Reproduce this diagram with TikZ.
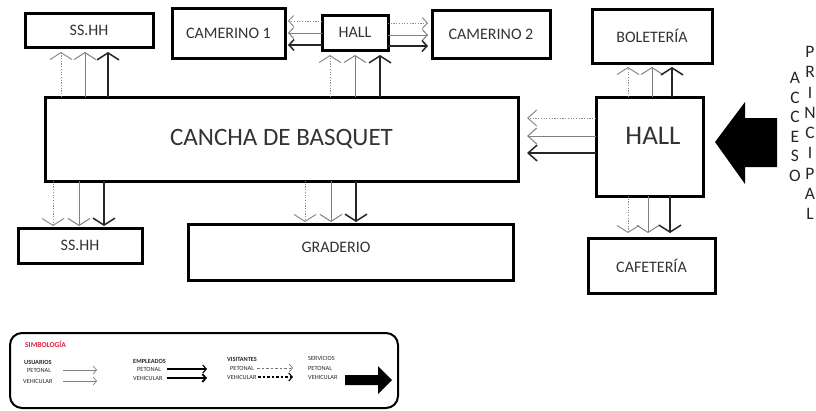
\documentclass[tikz,border=0pt]{standalone}
\usepackage{fontspec}
\setmainfont{Carlito}
\usetikzlibrary{arrows.meta}
\begin{document}
\begin{tikzpicture}[x=1pt,y=-1pt,
  box/.style={draw, line width=3pt, inner sep=0pt, outer sep=0pt, anchor=north west,
    font=\fontsize{16}{18}\selectfont, text=black!80},
  lbl/.style={inner sep=0pt, text=black!80},
  vt/.style={-{Straight Barb[length=7pt,width=22pt]}},
  ht/.style={-{Straight Barb[length=9pt,width=16pt]}},
  ct/.style={-{Straight Barb[length=5pt,width=11pt]}},
  lt/.style={-{Straight Barb[length=3.5pt,width=8pt]}},
  dotarr/.style={draw=black!45, line width=1pt, dash pattern=on 1.2pt off 1.5pt},
  gryarr/.style={draw=black!50, line width=1pt},
  blkarr/.style={draw=black!85, line width=1.5pt},
  vtxt/.style={inner sep=0pt, align=center, text=black!85},
  legt/.style={inner sep=0pt, anchor=west, font=\fontsize{6.3}{7}\selectfont, text=black!85},
  legh/.style={legt, font=\fontsize{6.3}{7}\selectfont\bfseries},
]
\useasboundingbox (0,0) rectangle (816,410);

% boxes
\node[box, minimum width=128, minimum height=34] (ssa) at (25,13) {SS.HH};
\node[box, minimum width=113, minimum height=50] (cam1) at (172,8) {CAMERINO 1};
\node[box, minimum width=66, minimum height=35] (halls) at (322,15) {HALL};
\node[box, minimum width=118, minimum height=48] (cam2) at (432,10) {CAMERINO 2};
\node[box, minimum width=120, minimum height=54] (bol) at (592,9) {BOLETERÍA};
\node[box, minimum width=473, minimum height=84, font=\fontsize{25}{28}\selectfont] (cancha) at (45,97) {CANCHA DE BASQUET};
\node[box, minimum width=107, minimum height=99] (hallb) at (596,97) {};
\node[lbl, font=\fontsize{27}{30}\selectfont] (hallbt) at (653,136) {HALL};
\node[box, minimum width=124, minimum height=35] (ssb) at (18,228) {SS.HH};
\node[box, minimum width=325, minimum height=56] (grad) at (188,224) {};
\node[lbl, font=\fontsize{16}{18}\selectfont] (gradt) at (336,247) {GRADERIO};
\node[box, minimum width=127, minimum height=55] (caf) at (588,238) {CAFETERÍA};

% cancha -> ssa
\draw[dotarr,vt,shorten >=5pt] (61,0 |- cancha.north) -- (61,0 |- ssa.south);
\draw[gryarr,vt,shorten >=5pt] (85,0 |- cancha.north) -- (85,0 |- ssa.south);
\draw[blkarr,vt,shorten >=5pt] (108,0 |- cancha.north) -- (108,0 |- ssa.south);
% cancha -> hall small
\draw[dotarr,vt,shorten >=5pt] (330,0 |- cancha.north) -- (330,0 |- halls.south);
\draw[gryarr,vt,shorten >=5pt] (355,0 |- cancha.north) -- (355,0 |- halls.south);
\draw[blkarr,vt,shorten >=5pt] (380,0 |- cancha.north) -- (380,0 |- halls.south);
% hall big -> boleteria
\draw[dotarr,vt,shorten >=4pt] (628,0 |- hallb.north) -- (628,0 |- bol.south);
\draw[gryarr,vt,shorten >=4pt] (652,0 |- hallb.north) -- (652,0 |- bol.south);
\draw[blkarr,vt,shorten >=4pt] (672,0 |- hallb.north) -- (672,0 |- bol.south);
% cancha -> ssb
\draw[dotarr,vt,shorten >=2pt] (53,0 |- cancha.south) -- (53,0 |- ssb.north);
\draw[gryarr,vt,shorten >=2pt] (79,0 |- cancha.south) -- (79,0 |- ssb.north);
\draw[blkarr,vt,shorten >=2pt] (104,0 |- cancha.south) -- (104,0 |- ssb.north);
% cancha -> graderio
\draw[dotarr,vt,shorten >=2pt] (305,0 |- cancha.south) -- (305,0 |- grad.north);
\draw[gryarr,vt,shorten >=2pt] (331,0 |- cancha.south) -- (331,0 |- grad.north);
\draw[blkarr,vt,shorten >=2pt] (356,0 |- cancha.south) -- (356,0 |- grad.north);
% hall big -> cafeteria
\draw[dotarr,vt,shorten >=5pt] (628,0 |- hallb.south) -- (628,0 |- caf.north);
\draw[gryarr,vt,shorten >=5pt] (648,0 |- hallb.south) -- (648,0 |- caf.north);
\draw[blkarr,vt,shorten >=5pt] (670,0 |- hallb.south) -- (670,0 |- caf.north);
% hall big -> cancha
\draw[dotarr,ht,shorten >=9pt] (hallb.west |- 0,118) -- (cancha.east |- 0,118);
\draw[gryarr,ht,shorten >=9pt] (hallb.west |- 0,136) -- (cancha.east |- 0,136);
\draw[blkarr,ht,shorten >=9pt] (hallb.west |- 0,153) -- (cancha.east |- 0,153);
% hall small -> camerino 1
\draw[dotarr,ct,shorten >=3pt] (halls.west |- 0,21) -- (cam1.east |- 0,21);
\draw[gryarr,ct,shorten >=3pt] (halls.west |- 0,33) -- (cam1.east |- 0,33);
\draw[blkarr,ct,shorten >=3pt] (halls.west |- 0,45) -- (cam1.east |- 0,45);
% hall small -> camerino 2
\draw[dotarr,ct,shorten >=4pt] (halls.east |- 0,23) -- (cam2.west |- 0,23);
\draw[gryarr,ct,shorten >=4pt] (halls.east |- 0,35) -- (cam2.west |- 0,35);
\draw[blkarr,ct,shorten >=4pt] (halls.east |- 0,46) -- (cam2.west |- 0,46);

% acceso principal
\fill[black] (777,118) -- (745,118) -- (745,102) -- (715,142) -- (745,184) -- (745,167) -- (777,167) -- cycle;
\node[vtxt, font=\fontsize{17.5}{19.6}\selectfont] (acc) at (795,127) {A\\C\\C\\E\\S\\O};
\node[vtxt, font=\fontsize{17.5}{20.3}\selectfont] (pri) at (810,133) {P\\R\\I\\N\\C\\I\\P\\A\\L};

% legend
\draw[line width=2pt, rounded corners=12pt] (10,333) rectangle (398,408);
\node[legt, font=\fontsize{7.5}{8}\selectfont\bfseries, text={rgb,255:red,225;green,30;blue,60}] (simb) at (25,344) {SIMBOLOGÍA};
\node[legh] (us) at (24,362) {USUARIOS};
\node[legt] (usp) at (27,370) {PETONAL};
\node[legt] (usv) at (23,381) {VEHICULAR};
\coordinate (u1a) at (63,370); \coordinate (u1b) at (97,370);
\coordinate (u2a) at (63,381); \coordinate (u2b) at (97,381);
\draw[gryarr,lt,line width=0.7pt] (u1a) -- (u1b);
\draw[gryarr,lt,line width=0.7pt] (u2a) -- (u2b);
\node[legh] (em) at (133,361) {EMPLEADOS};
\node[legt] (emp) at (137,369) {PETONAL};
\node[legt] (emv) at (133,378) {VEHICULAR};
\coordinate (e1a) at (167,369); \coordinate (e1b) at (207,369);
\coordinate (e2a) at (167,378); \coordinate (e2b) at (207,378);
\draw[black,lt,line width=1.1pt] (e1a) -- (e1b);
\draw[black,lt,line width=1.8pt] (e2a) -- (e2b);
\node[legh] (vi) at (227,359) {VISITANTES};
\node[legt] (vip) at (230,368) {PETONAL};
\node[legt] (viv) at (227,377) {VEHICULAR};
\coordinate (v1a) at (257,368); \coordinate (v1b) at (293,368);
\coordinate (v2a) at (258,377); \coordinate (v2b) at (293,377);
\draw[black!55,lt,line width=0.7pt,dash pattern=on 2.5pt off 2pt] (v1a) -- (v1b);
\draw[black,lt,line width=1.1pt,dash pattern=on 2.5pt off 2pt] (v2a) -- (v2b);
\node[legt] (se) at (308,358) {SERVICIOS};
\node[legt] (sep) at (308,368) {PETONAL};
\node[legt] (sev) at (308,377) {VEHICULAR};
\fill[black] (345,375) -- (378,375) -- (378,366) -- (392,380) -- (378,394) -- (378,385) -- (345,385) -- cycle;
\end{tikzpicture}
\end{document}
